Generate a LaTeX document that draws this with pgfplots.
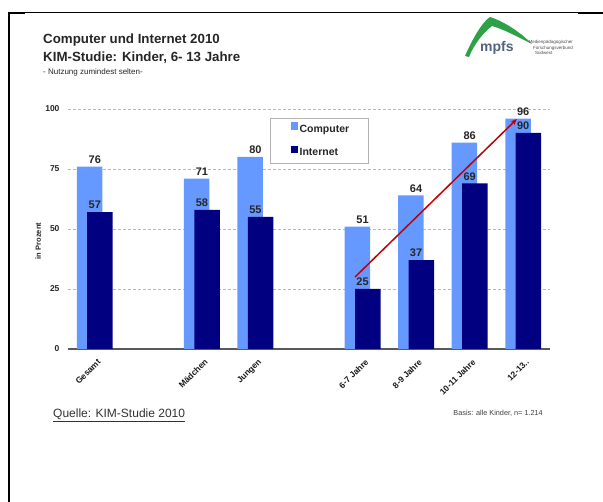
\documentclass[border=0pt]{standalone}
\usepackage{fontspec}
\setmainfont{Liberation Sans}
\usepackage{pgfplots}
\pgfplotsset{compat=1.18}
\usetikzlibrary{arrows.meta}
\definecolor{compblue}{RGB}{102,153,255}
\definecolor{netblue}{RGB}{0,0,128}
\definecolor{arrowred}{RGB}{192,0,0}
\definecolor{logogreen}{RGB}{46,160,70}
\definecolor{logotext}{RGB}{80,100,130}
\newcommand{\fs}[1]{\fontsize{#1}{#1}\selectfont}
\begin{document}
\begin{tikzpicture}[x=1pt,y=1pt]
\useasboundingbox (0,0) rectangle (603,502);
\fill[white] (0,0) rectangle (603,502);
\coordinate (axorig) at (68,153);
% frame
\draw[line width=2.3pt] (9,0) -- (9,489);
\draw[line width=1pt] (9,489) -- (603,489);
\draw[line width=2.3pt] (8,489) -- (25,489);
\draw[line width=2.3pt] (578,489) -- (603,489);
% titles
\node[anchor=west, inner sep=0, font=\bfseries\fs{13.3}, text=black!85] at (43,462) {Computer und Internet 2010};
\node[anchor=west, inner sep=0, font=\bfseries\fs{13.3}, text=black!85] at (43,444) {KIM-Studie: Kinder, 6- 13 Jahre};
\node[anchor=west, inner sep=0, font=\fs{8}, text=black!85] at (43,430) {- Nutzung zumindest selten-};
% logo
\fill[logogreen] (465,446) .. controls (472,462) and (482,480) .. (490,485)
  .. controls (505,480) and (520,470) .. (532,458)
  .. controls (518,465) and (503,473) .. (492,476)
  .. controls (484,470) and (474,458) .. (469,445) -- cycle;
\node[anchor=base west, inner sep=0, font=\bfseries\fs{14}, text=logotext] at (480,450) {mpfs};
\node[anchor=east, inner sep=0, font=\fs{4.5}, text=black!70] at (573,460) {Medienpädagogischer};
\node[anchor=east, inner sep=0, font=\fs{4.5}, text=black!70] at (573,454) {Forschungsverbund};
\node[anchor=west, inner sep=0, font=\fs{4.5}, text=black!70] at (535,449) {Südwest};
% footer
\node[anchor=west, inner sep=0, font=\fs{12}, text=black!80] at (53,87) {\underline{Quelle: KIM-Studie 2010}};
\node[anchor=east, inner sep=0, font=\fs{7.3}, text=black!75] at (543,89) {Basis: alle Kinder, n= 1.214};
\begin{axis}[
  at={(axorig)}, anchor=south west,
  scale only axis, width=482pt, height=240pt,
  xmin=-0.5, xmax=8.5, ymin=0, ymax=100,
  clip=false,
  axis x line*=bottom, axis y line*=left,
  y axis line style={draw=none},
  x axis line style={draw=black!65, line width=1.2pt},
  tick style={draw=none},
  ytick={0,25,50,75,100},
  ymajorgrids,
  major grid style={densely dashed, gray!55, line width=0.5pt},
  xtick={0,2,3,5,6,7,8},
  xticklabels={Gesamt,Mädchen,Jungen,6-7 Jahre,8-9 Jahre,10-11 Jahre,12-13..},
  xticklabel style={rotate=45, anchor=north east, font=\bfseries\fs{8.5}, text=black!90, inner sep=1pt, xshift=-4pt, yshift=-7pt},
  yticklabel style={font=\bfseries\fs{8.5}, text=black!85, xshift=-5pt},
  /pgf/number format/assume math mode=true,
  ylabel={in Prozent},
  ylabel style={at={(axis description cs:-0.062,0.45)}, anchor=center, font=\bfseries\fs{7.5}, text=black!85},
  legend style={at={(0.419,0.9625)}, anchor=north west, draw=gray!60, line width=0.6pt, fill=white,
    font=\bfseries\fs{10.5}, text=black!85, inner xsep=4.8pt, inner ysep=4pt, row sep=10pt},
  legend cell align=left,
]
\addlegendimage{legend image code/.code={\path (0pt,0pt) (22pt,0pt); \fill[compblue] (16pt,0.3pt) rectangle (22pt,6.6pt);}}
\addlegendentry{\makebox[62pt][l]{Computer}}
\addlegendimage{legend image code/.code={\path (0pt,0pt) (22pt,0pt); \fill[netblue] (16pt,0.3pt) rectangle (22pt,6.6pt);}}
\addlegendentry{\makebox[62pt][l]{Internet}}
\addplot[ybar, forget plot, bar width=25.5pt, bar shift=-5.2pt, fill=compblue, draw=none,
  nodes near coords, every node near coord/.append style={font=\bfseries\fs{11}, text=black!85, inner sep=2pt, yshift=1pt}]
  coordinates {(0,76) (2,71) (3,80) (5,51) (6,64) (7,86) (8,96)};
\addplot[ybar, forget plot, bar width=25.5pt, bar shift=5.2pt, fill=netblue, draw=none,
  nodes near coords, every node near coord/.append style={font=\bfseries\fs{11}, text=black!85, inner sep=2pt, yshift=1pt}]
  coordinates {(0,57) (2,58) (3,55) (5,25) (6,37) (7,69) (8,90)};
\addplot[arrowred, line width=1.5pt, -{Stealth[length=6pt,width=5pt]}, forget plot]
  coordinates {(4.86,30) (7.88,95.8)};
\end{axis}
\end{tikzpicture}
\end{document}
